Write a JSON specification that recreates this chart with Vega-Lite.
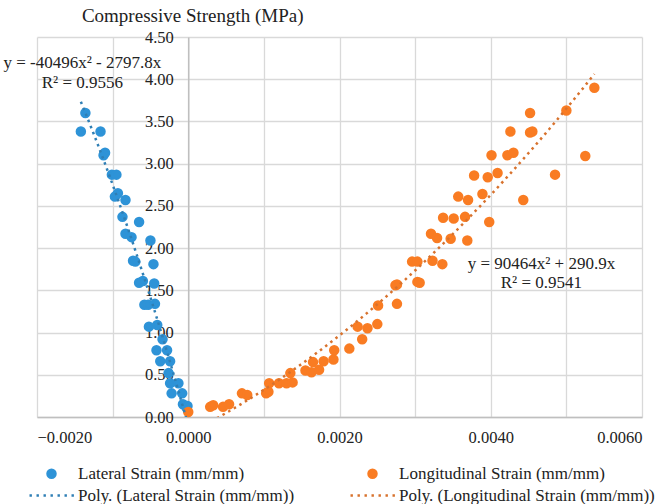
{
  "$schema": "https://vega.github.io/schema/vega-lite/v6.json",
  "width": 605,
  "height": 380,
  "autosize": "none",
  "padding": {"left": 37, "top": 37, "right": 29, "bottom": 87},
  "background": "white",
  "config": {
    "view": {"stroke": null},
    "font": "Liberation Serif, Times New Roman, serif",
    "axis": {
      "labelFont": "Liberation Serif, Times New Roman, serif",
      "labelFontSize": 16.5,
      "labelColor": "#222",
      "gridColor": "#d9d9d9",
      "gridWidth": 1.3,
      "domainColor": "#bfbfbf",
      "domainWidth": 1.5,
      "ticks": false
    },
    "legend": {"padding": 0, "labelFont": "Liberation Serif, Times New Roman, serif"}
  },
  "datasets": {
    "strain": [
      {"series": "Lateral Strain (mm/mm)", "trend": "Poly. (Lateral Strain (mm/mm))", "strain": -0.00136, "stress": 3.60},
      {"series": "Lateral Strain (mm/mm)", "trend": "Poly. (Lateral Strain (mm/mm))", "strain": -0.00142, "stress": 3.38},
      {"series": "Lateral Strain (mm/mm)", "trend": "Poly. (Lateral Strain (mm/mm))", "strain": -0.00116, "stress": 3.38},
      {"series": "Lateral Strain (mm/mm)", "trend": "Poly. (Lateral Strain (mm/mm))", "strain": -0.00110, "stress": 3.13},
      {"series": "Lateral Strain (mm/mm)", "trend": "Poly. (Lateral Strain (mm/mm))", "strain": -0.00112, "stress": 3.10},
      {"series": "Lateral Strain (mm/mm)", "trend": "Poly. (Lateral Strain (mm/mm))", "strain": -0.00101, "stress": 2.87},
      {"series": "Lateral Strain (mm/mm)", "trend": "Poly. (Lateral Strain (mm/mm))", "strain": -0.00095, "stress": 2.87},
      {"series": "Lateral Strain (mm/mm)", "trend": "Poly. (Lateral Strain (mm/mm))", "strain": -0.00093, "stress": 2.65},
      {"series": "Lateral Strain (mm/mm)", "trend": "Poly. (Lateral Strain (mm/mm))", "strain": -0.00097, "stress": 2.61},
      {"series": "Lateral Strain (mm/mm)", "trend": "Poly. (Lateral Strain (mm/mm))", "strain": -0.00083, "stress": 2.57},
      {"series": "Lateral Strain (mm/mm)", "trend": "Poly. (Lateral Strain (mm/mm))", "strain": -0.00087, "stress": 2.37},
      {"series": "Lateral Strain (mm/mm)", "trend": "Poly. (Lateral Strain (mm/mm))", "strain": -0.00065, "stress": 2.31},
      {"series": "Lateral Strain (mm/mm)", "trend": "Poly. (Lateral Strain (mm/mm))", "strain": -0.00083, "stress": 2.17},
      {"series": "Lateral Strain (mm/mm)", "trend": "Poly. (Lateral Strain (mm/mm))", "strain": -0.00075, "stress": 2.13},
      {"series": "Lateral Strain (mm/mm)", "trend": "Poly. (Lateral Strain (mm/mm))", "strain": -0.00050, "stress": 2.09},
      {"series": "Lateral Strain (mm/mm)", "trend": "Poly. (Lateral Strain (mm/mm))", "strain": -0.00073, "stress": 1.85},
      {"series": "Lateral Strain (mm/mm)", "trend": "Poly. (Lateral Strain (mm/mm))", "strain": -0.00070, "stress": 1.84},
      {"series": "Lateral Strain (mm/mm)", "trend": "Poly. (Lateral Strain (mm/mm))", "strain": -0.00046, "stress": 1.81},
      {"series": "Lateral Strain (mm/mm)", "trend": "Poly. (Lateral Strain (mm/mm))", "strain": -0.00065, "stress": 1.59},
      {"series": "Lateral Strain (mm/mm)", "trend": "Poly. (Lateral Strain (mm/mm))", "strain": -0.00060, "stress": 1.61},
      {"series": "Lateral Strain (mm/mm)", "trend": "Poly. (Lateral Strain (mm/mm))", "strain": -0.00045, "stress": 1.58},
      {"series": "Lateral Strain (mm/mm)", "trend": "Poly. (Lateral Strain (mm/mm))", "strain": -0.00058, "stress": 1.33},
      {"series": "Lateral Strain (mm/mm)", "trend": "Poly. (Lateral Strain (mm/mm))", "strain": -0.00053, "stress": 1.33},
      {"series": "Lateral Strain (mm/mm)", "trend": "Poly. (Lateral Strain (mm/mm))", "strain": -0.00044, "stress": 1.34},
      {"series": "Lateral Strain (mm/mm)", "trend": "Poly. (Lateral Strain (mm/mm))", "strain": -0.00052, "stress": 1.07},
      {"series": "Lateral Strain (mm/mm)", "trend": "Poly. (Lateral Strain (mm/mm))", "strain": -0.00041, "stress": 1.09},
      {"series": "Lateral Strain (mm/mm)", "trend": "Poly. (Lateral Strain (mm/mm))", "strain": -0.00034, "stress": 0.92},
      {"series": "Lateral Strain (mm/mm)", "trend": "Poly. (Lateral Strain (mm/mm))", "strain": -0.00042, "stress": 0.79},
      {"series": "Lateral Strain (mm/mm)", "trend": "Poly. (Lateral Strain (mm/mm))", "strain": -0.00028, "stress": 0.79},
      {"series": "Lateral Strain (mm/mm)", "trend": "Poly. (Lateral Strain (mm/mm))", "strain": -0.00037, "stress": 0.66},
      {"series": "Lateral Strain (mm/mm)", "trend": "Poly. (Lateral Strain (mm/mm))", "strain": -0.00024, "stress": 0.66},
      {"series": "Lateral Strain (mm/mm)", "trend": "Poly. (Lateral Strain (mm/mm))", "strain": -0.00026, "stress": 0.52},
      {"series": "Lateral Strain (mm/mm)", "trend": "Poly. (Lateral Strain (mm/mm))", "strain": -0.00024, "stress": 0.40},
      {"series": "Lateral Strain (mm/mm)", "trend": "Poly. (Lateral Strain (mm/mm))", "strain": -0.00013, "stress": 0.40},
      {"series": "Lateral Strain (mm/mm)", "trend": "Poly. (Lateral Strain (mm/mm))", "strain": -0.00022, "stress": 0.28},
      {"series": "Lateral Strain (mm/mm)", "trend": "Poly. (Lateral Strain (mm/mm))", "strain": -0.00008, "stress": 0.28},
      {"series": "Lateral Strain (mm/mm)", "trend": "Poly. (Lateral Strain (mm/mm))", "strain": -0.00007, "stress": 0.15},
      {"series": "Lateral Strain (mm/mm)", "trend": "Poly. (Lateral Strain (mm/mm))", "strain": -0.00001, "stress": 0.13},
      {"series": "Lateral Strain (mm/mm)", "trend": "Poly. (Lateral Strain (mm/mm))", "strain": -0.00002, "stress": 0.11},
      {"series": "Longitudinal Strain (mm/mm)", "trend": "Poly. (Longitudinal Strain (mm/mm))", "strain": 0.00000, "stress": 0.06},
      {"series": "Longitudinal Strain (mm/mm)", "trend": "Poly. (Longitudinal Strain (mm/mm))", "strain": 0.00029, "stress": 0.12},
      {"series": "Longitudinal Strain (mm/mm)", "trend": "Poly. (Longitudinal Strain (mm/mm))", "strain": 0.00033, "stress": 0.14},
      {"series": "Longitudinal Strain (mm/mm)", "trend": "Poly. (Longitudinal Strain (mm/mm))", "strain": 0.00046, "stress": 0.12},
      {"series": "Longitudinal Strain (mm/mm)", "trend": "Poly. (Longitudinal Strain (mm/mm))", "strain": 0.00054, "stress": 0.15},
      {"series": "Longitudinal Strain (mm/mm)", "trend": "Poly. (Longitudinal Strain (mm/mm))", "strain": 0.00071, "stress": 0.28},
      {"series": "Longitudinal Strain (mm/mm)", "trend": "Poly. (Longitudinal Strain (mm/mm))", "strain": 0.00078, "stress": 0.26},
      {"series": "Longitudinal Strain (mm/mm)", "trend": "Poly. (Longitudinal Strain (mm/mm))", "strain": 0.00103, "stress": 0.28},
      {"series": "Longitudinal Strain (mm/mm)", "trend": "Poly. (Longitudinal Strain (mm/mm))", "strain": 0.00107, "stress": 0.40},
      {"series": "Longitudinal Strain (mm/mm)", "trend": "Poly. (Longitudinal Strain (mm/mm))", "strain": 0.00106, "stress": 0.30},
      {"series": "Longitudinal Strain (mm/mm)", "trend": "Poly. (Longitudinal Strain (mm/mm))", "strain": 0.00120, "stress": 0.40},
      {"series": "Longitudinal Strain (mm/mm)", "trend": "Poly. (Longitudinal Strain (mm/mm))", "strain": 0.00130, "stress": 0.40},
      {"series": "Longitudinal Strain (mm/mm)", "trend": "Poly. (Longitudinal Strain (mm/mm))", "strain": 0.00138, "stress": 0.41},
      {"series": "Longitudinal Strain (mm/mm)", "trend": "Poly. (Longitudinal Strain (mm/mm))", "strain": 0.00135, "stress": 0.52},
      {"series": "Longitudinal Strain (mm/mm)", "trend": "Poly. (Longitudinal Strain (mm/mm))", "strain": 0.00155, "stress": 0.55},
      {"series": "Longitudinal Strain (mm/mm)", "trend": "Poly. (Longitudinal Strain (mm/mm))", "strain": 0.00163, "stress": 0.53},
      {"series": "Longitudinal Strain (mm/mm)", "trend": "Poly. (Longitudinal Strain (mm/mm))", "strain": 0.00173, "stress": 0.56},
      {"series": "Longitudinal Strain (mm/mm)", "trend": "Poly. (Longitudinal Strain (mm/mm))", "strain": 0.00165, "stress": 0.65},
      {"series": "Longitudinal Strain (mm/mm)", "trend": "Poly. (Longitudinal Strain (mm/mm))", "strain": 0.00179, "stress": 0.66},
      {"series": "Longitudinal Strain (mm/mm)", "trend": "Poly. (Longitudinal Strain (mm/mm))", "strain": 0.00192, "stress": 0.68},
      {"series": "Longitudinal Strain (mm/mm)", "trend": "Poly. (Longitudinal Strain (mm/mm))", "strain": 0.00193, "stress": 0.79},
      {"series": "Longitudinal Strain (mm/mm)", "trend": "Poly. (Longitudinal Strain (mm/mm))", "strain": 0.00213, "stress": 0.81},
      {"series": "Longitudinal Strain (mm/mm)", "trend": "Poly. (Longitudinal Strain (mm/mm))", "strain": 0.00224, "stress": 1.07},
      {"series": "Longitudinal Strain (mm/mm)", "trend": "Poly. (Longitudinal Strain (mm/mm))", "strain": 0.00237, "stress": 1.05},
      {"series": "Longitudinal Strain (mm/mm)", "trend": "Poly. (Longitudinal Strain (mm/mm))", "strain": 0.00230, "stress": 0.92},
      {"series": "Longitudinal Strain (mm/mm)", "trend": "Poly. (Longitudinal Strain (mm/mm))", "strain": 0.00250, "stress": 1.10},
      {"series": "Longitudinal Strain (mm/mm)", "trend": "Poly. (Longitudinal Strain (mm/mm))", "strain": 0.00251, "stress": 1.32},
      {"series": "Longitudinal Strain (mm/mm)", "trend": "Poly. (Longitudinal Strain (mm/mm))", "strain": 0.00276, "stress": 1.34},
      {"series": "Longitudinal Strain (mm/mm)", "trend": "Poly. (Longitudinal Strain (mm/mm))", "strain": 0.00274, "stress": 1.56},
      {"series": "Longitudinal Strain (mm/mm)", "trend": "Poly. (Longitudinal Strain (mm/mm))", "strain": 0.00276, "stress": 1.57},
      {"series": "Longitudinal Strain (mm/mm)", "trend": "Poly. (Longitudinal Strain (mm/mm))", "strain": 0.00303, "stress": 1.60},
      {"series": "Longitudinal Strain (mm/mm)", "trend": "Poly. (Longitudinal Strain (mm/mm))", "strain": 0.00306, "stress": 1.59},
      {"series": "Longitudinal Strain (mm/mm)", "trend": "Poly. (Longitudinal Strain (mm/mm))", "strain": 0.00296, "stress": 1.84},
      {"series": "Longitudinal Strain (mm/mm)", "trend": "Poly. (Longitudinal Strain (mm/mm))", "strain": 0.00303, "stress": 1.84},
      {"series": "Longitudinal Strain (mm/mm)", "trend": "Poly. (Longitudinal Strain (mm/mm))", "strain": 0.00323, "stress": 1.85},
      {"series": "Longitudinal Strain (mm/mm)", "trend": "Poly. (Longitudinal Strain (mm/mm))", "strain": 0.00336, "stress": 1.81},
      {"series": "Longitudinal Strain (mm/mm)", "trend": "Poly. (Longitudinal Strain (mm/mm))", "strain": 0.00321, "stress": 2.17},
      {"series": "Longitudinal Strain (mm/mm)", "trend": "Poly. (Longitudinal Strain (mm/mm))", "strain": 0.00329, "stress": 2.12},
      {"series": "Longitudinal Strain (mm/mm)", "trend": "Poly. (Longitudinal Strain (mm/mm))", "strain": 0.00347, "stress": 2.11},
      {"series": "Longitudinal Strain (mm/mm)", "trend": "Poly. (Longitudinal Strain (mm/mm))", "strain": 0.00369, "stress": 2.09},
      {"series": "Longitudinal Strain (mm/mm)", "trend": "Poly. (Longitudinal Strain (mm/mm))", "strain": 0.00337, "stress": 2.36},
      {"series": "Longitudinal Strain (mm/mm)", "trend": "Poly. (Longitudinal Strain (mm/mm))", "strain": 0.00351, "stress": 2.35},
      {"series": "Longitudinal Strain (mm/mm)", "trend": "Poly. (Longitudinal Strain (mm/mm))", "strain": 0.00366, "stress": 2.37},
      {"series": "Longitudinal Strain (mm/mm)", "trend": "Poly. (Longitudinal Strain (mm/mm))", "strain": 0.00398, "stress": 2.31},
      {"series": "Longitudinal Strain (mm/mm)", "trend": "Poly. (Longitudinal Strain (mm/mm))", "strain": 0.00357, "stress": 2.61},
      {"series": "Longitudinal Strain (mm/mm)", "trend": "Poly. (Longitudinal Strain (mm/mm))", "strain": 0.00370, "stress": 2.57},
      {"series": "Longitudinal Strain (mm/mm)", "trend": "Poly. (Longitudinal Strain (mm/mm))", "strain": 0.00389, "stress": 2.64},
      {"series": "Longitudinal Strain (mm/mm)", "trend": "Poly. (Longitudinal Strain (mm/mm))", "strain": 0.00443, "stress": 2.57},
      {"series": "Longitudinal Strain (mm/mm)", "trend": "Poly. (Longitudinal Strain (mm/mm))", "strain": 0.00378, "stress": 2.86},
      {"series": "Longitudinal Strain (mm/mm)", "trend": "Poly. (Longitudinal Strain (mm/mm))", "strain": 0.00396, "stress": 2.84},
      {"series": "Longitudinal Strain (mm/mm)", "trend": "Poly. (Longitudinal Strain (mm/mm))", "strain": 0.00409, "stress": 2.89},
      {"series": "Longitudinal Strain (mm/mm)", "trend": "Poly. (Longitudinal Strain (mm/mm))", "strain": 0.00485, "stress": 2.87},
      {"series": "Longitudinal Strain (mm/mm)", "trend": "Poly. (Longitudinal Strain (mm/mm))", "strain": 0.00401, "stress": 3.10},
      {"series": "Longitudinal Strain (mm/mm)", "trend": "Poly. (Longitudinal Strain (mm/mm))", "strain": 0.00422, "stress": 3.10},
      {"series": "Longitudinal Strain (mm/mm)", "trend": "Poly. (Longitudinal Strain (mm/mm))", "strain": 0.00430, "stress": 3.13},
      {"series": "Longitudinal Strain (mm/mm)", "trend": "Poly. (Longitudinal Strain (mm/mm))", "strain": 0.00525, "stress": 3.09},
      {"series": "Longitudinal Strain (mm/mm)", "trend": "Poly. (Longitudinal Strain (mm/mm))", "strain": 0.00426, "stress": 3.38},
      {"series": "Longitudinal Strain (mm/mm)", "trend": "Poly. (Longitudinal Strain (mm/mm))", "strain": 0.00452, "stress": 3.37},
      {"series": "Longitudinal Strain (mm/mm)", "trend": "Poly. (Longitudinal Strain (mm/mm))", "strain": 0.00455, "stress": 3.38},
      {"series": "Longitudinal Strain (mm/mm)", "trend": "Poly. (Longitudinal Strain (mm/mm))", "strain": 0.00452, "stress": 3.60},
      {"series": "Longitudinal Strain (mm/mm)", "trend": "Poly. (Longitudinal Strain (mm/mm))", "strain": 0.00500, "stress": 3.63},
      {"series": "Longitudinal Strain (mm/mm)", "trend": "Poly. (Longitudinal Strain (mm/mm))", "strain": 0.00537, "stress": 3.90}
    ],
    "notes": [
      {"label": "y = -40496x² - 2797.8x", "strain": -0.00140, "stress": 4.19},
      {"label": "R² = 0.9556", "strain": -0.00140, "stress": 3.96},
      {"label": "y = 90464x² + 290.9x", "strain": 0.00467, "stress": 1.81},
      {"label": "R² = 0.9541", "strain": 0.00467, "stress": 1.59}
    ]
  },
  "encoding": {
    "x": {
      "field": "strain",
      "type": "quantitative",
      "scale": {"domain": [-0.002, 0.006], "nice": false, "zero": false},
      "axis": {
        "title": null,
        "values": [-0.002, -0.001, 0, 0.001, 0.002, 0.003, 0.004, 0.005, 0.006],
        "format": ".4f",
        "labelPadding": 12,
        "domain": true
      }
    },
    "y": {
      "field": "stress",
      "type": "quantitative",
      "scale": {"domain": [0, 4.5], "nice": false},
      "axis": {
        "title": "Compressive Strength (MPa)",
        "titleFont": "Liberation Serif, Times New Roman, serif",
        "titleFontSize": 19,
        "titleFontWeight": "normal",
        "titleColor": "#222",
        "titleAngle": 0,
        "titleAlign": "center",
        "titleBaseline": "alphabetic",
        "titleX": 4,
        "titleY": -16,
        "offset": -151.25,
        "values": [0, 0.5, 1, 1.5, 2, 2.5, 3, 3.5, 4, 4.5],
        "format": ".2f",
        "labelPadding": 15
      }
    }
  },
  "layer": [
    {
      "data": {"name": "strain"},
      "mark": {"type": "point", "filled": true, "opacity": 1, "size": 100, "strokeWidth": 2.5},
      "encoding": {
        "color": {
          "field": "series",
          "type": "nominal",
          "scale": {
            "domain": [
              "Lateral Strain (mm/mm)",
              "Longitudinal Strain (mm/mm)",
              "Poly. (Lateral Strain (mm/mm))",
              "Poly. (Longitudinal Strain (mm/mm))"
            ],
            "range": ["#2e93d7", "#f97c23", "#2f7fb5", "#d8722d"]
          },
          "legend": {
            "title": null,
            "orient": "none",
            "legendX": 6,
            "legendY": 428,
            "direction": "horizontal",
            "columns": 2,
            "columnPadding": 50,
            "rowPadding": 3,
            "symbolSize": 100,
            "symbolStrokeWidth": 2.5,
            "labelFont": "Liberation Serif, Times New Roman, serif",
            "labelFontSize": 17,
            "labelColor": "#222",
            "labelOffset": 18,
            "labelLimit": 400
          }
        },
        "stroke": {
          "field": "series",
          "type": "nominal",
          "scale": {
            "domain": [
              "Lateral Strain (mm/mm)",
              "Longitudinal Strain (mm/mm)",
              "Poly. (Lateral Strain (mm/mm))",
              "Poly. (Longitudinal Strain (mm/mm))"
            ],
            "range": ["#2e93d7", "#f97c23", "#2f7fb5", "#d8722d"]
          },
          "legend": {"title": null}
        },
        "shape": {
          "field": "series",
          "type": "nominal",
          "scale": {
            "domain": [
              "Lateral Strain (mm/mm)",
              "Longitudinal Strain (mm/mm)",
              "Poly. (Lateral Strain (mm/mm))",
              "Poly. (Longitudinal Strain (mm/mm))"
            ],
            "range": [
              "M-0.8,0A0.8,0.8,0,1,0,0.8,0A0.8,0.8,0,1,0,-0.8,0Z",
              "M-0.8,0A0.8,0.8,0,1,0,0.8,0A0.8,0.8,0,1,0,-0.8,0Z",
              "M-4.4,0H-3.92M-3,0H-2.52M-1.6,0H-1.12M-0.2,0H0.28M1.2,0H1.68M2.6,0H3.08M4,0H4.48",
              "M-4.4,0H-3.92M-3,0H-2.52M-1.6,0H-1.12M-0.2,0H0.28M1.2,0H1.68M2.6,0H3.08M4,0H4.48"
            ]
          },
          "legend": {"title": null}
        }
      }
    },
    {
      "data": {"name": "strain"},
      "transform": [
        {"filter": "datum.series == 'Lateral Strain (mm/mm)'"},
        {"regression": "stress", "on": "strain", "method": "poly", "order": 2, "groupby": ["trend"], "extent": [-0.00142, 0]}
      ],
      "mark": {"type": "line", "strokeDash": [2.5, 4], "strokeWidth": 2.5, "clip": true},
      "encoding": {
        "color": {"field": "trend", "type": "nominal", "legend": null}
      }
    },
    {
      "data": {"name": "strain"},
      "transform": [
        {"filter": "datum.series == 'Longitudinal Strain (mm/mm)'"},
        {"regression": "stress", "on": "strain", "method": "poly", "order": 2, "groupby": ["trend"], "extent": [0, 0.00537]}
      ],
      "mark": {"type": "line", "strokeDash": [2.5, 4], "strokeWidth": 2.5, "clip": true},
      "encoding": {
        "color": {"field": "trend", "type": "nominal", "legend": null}
      }
    },
    {
      "data": {"name": "notes"},
      "mark": {"type": "text", "font": "Liberation Serif, Times New Roman, serif", "fontSize": 17, "align": "center", "baseline": "middle", "color": "#222"},
      "encoding": {
        "text": {"field": "label", "type": "nominal"}
      }
    }
  ]
}
